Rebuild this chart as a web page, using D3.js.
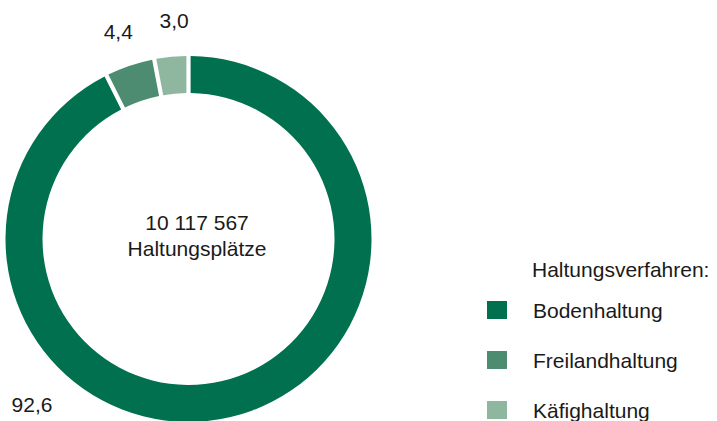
<!DOCTYPE html>
<html>
<head>
<meta charset="utf-8">
<script src="https://cdnjs.cloudflare.com/ajax/libs/d3/7.8.5/d3.min.js"></script>
<style>
body { margin: 0; background: #fff; }
svg text { font-family: "Liberation Sans", Arial, sans-serif; fill: #1a1a1a; }
</style>
</head>
<body>
<svg width="717" height="421"></svg>
<script>
// data
var categories = ["Bodenhaltung", "Freilandhaltung", "Käfighaltung"];
var shares = [92.6, 4.4, 3.0];
var shareLabels = ["92,6", "4,4", "3,0"];
var totalLabel = ["10 117 567", "Haltungsplätze"];
var legendTitle = "Haltungsverfahren:";

var colors = ["#00704f", "#4d8c70", "#8fb7a0"];

var svg = d3.select("svg");
var cx = 188.5, cy = 239;
var outer = 183, inner = 146;

var pie = d3.pie().sort(null).value(function(d) { return d; });
var arcs = pie(shares);

var arc = d3.arc()
    .innerRadius(inner)
    .outerRadius(outer)
    .padAngle(0.018);

var g = svg.append("g").attr("transform", "translate(" + cx + "," + cy + ")");

g.selectAll("path")
  .data(arcs)
  .enter().append("path")
    .attr("d", arc)
    .attr("fill", function(d, i) { return colors[i]; });

// slice labels: small slices near their middle angle, the big one further round
function labelPos(d, i) {
  var f = i == 0 ? 0.67 : (i == 2 ? 0.65 : 0.5);
  var a = d.startAngle + (d.endAngle - d.startAngle) * f;
  var r = i == 0 ? 228 : 219;
  return [Math.sin(a) * r, -Math.cos(a) * r];
}

g.selectAll(".lbl")
  .data(arcs)
  .enter().append("text")
    .attr("class", "lbl")
    .attr("x", function(d, i) { return labelPos(d, i)[0]; })
    .attr("y", function(d, i) { return labelPos(d, i)[1]; })
    .attr("dy", "0.35em")
    .attr("text-anchor", "middle")
    .attr("font-size", 21)
    .text(function(d, i) { return shareLabels[i]; });

// centre text
svg.selectAll(".total")
  .data(totalLabel)
  .enter().append("text")
    .attr("class", "total")
    .attr("x", 197)
    .attr("y", function(d, i) { return 230 + i * 26; })
    .attr("text-anchor", "middle")
    .attr("font-size", 21)
    .text(function(d) { return d; });

// legend
var ly = d3.scaleBand().domain(categories).range([285, 435]);

svg.append("text")
  .attr("x", 532)
  .attr("y", 277)
  .attr("font-size", 21)
  .text(legendTitle);

var leg = svg.selectAll(".leg")
  .data(categories)
  .enter().append("g")
    .attr("class", "leg")
    .attr("transform", function(d) { return "translate(0," + (ly(d) + ly.bandwidth() / 2) + ")"; });

leg.append("rect")
  .attr("x", 487)
  .attr("y", -9)
  .attr("width", 20)
  .attr("height", 18)
  .attr("fill", function(d, i) { return colors[i]; });

leg.append("text")
  .attr("x", 533)
  .attr("y", 8)
  .attr("font-size", 21)
  .text(function(d) { return d; });
</script>
</body>
</html>
